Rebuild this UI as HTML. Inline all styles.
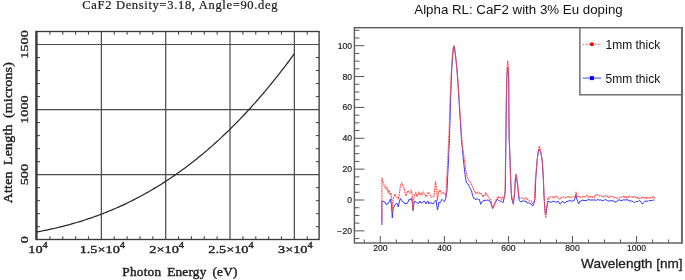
<!DOCTYPE html>
<html><head><meta charset="utf-8"><style>
html,body{margin:0;padding:0;background:#fff;width:685px;height:280px;overflow:hidden;}
svg{display:block;will-change:transform;}
</style></head><body>
<svg width="685" height="280" viewBox="0 0 685 280">
<rect width="685" height="280" fill="#fff"/>
<line x1="101.36" y1="31.5" x2="101.36" y2="239.5" stroke="#4a4a4a" stroke-width="1.2"/>
<line x1="165.69" y1="31.5" x2="165.69" y2="239.5" stroke="#4a4a4a" stroke-width="1.2"/>
<line x1="230.02" y1="31.5" x2="230.02" y2="239.5" stroke="#4a4a4a" stroke-width="1.2"/>
<line x1="294.35" y1="31.5" x2="294.35" y2="239.5" stroke="#4a4a4a" stroke-width="1.2"/>
<line x1="36.5" y1="174.64" x2="319.1" y2="174.64" stroke="#4a4a4a" stroke-width="1.2"/>
<line x1="36.5" y1="109.57" x2="319.1" y2="109.57" stroke="#4a4a4a" stroke-width="1.2"/>
<line x1="36.5" y1="44.50" x2="319.1" y2="44.50" stroke="#4a4a4a" stroke-width="1.2"/>
<line x1="49.90" y1="239.5" x2="49.90" y2="236.3" stroke="#4a4a4a" stroke-width="1.1"/>
<line x1="49.90" y1="31.5" x2="49.90" y2="34.7" stroke="#4a4a4a" stroke-width="1.1"/>
<line x1="62.76" y1="239.5" x2="62.76" y2="236.3" stroke="#4a4a4a" stroke-width="1.1"/>
<line x1="62.76" y1="31.5" x2="62.76" y2="34.7" stroke="#4a4a4a" stroke-width="1.1"/>
<line x1="75.63" y1="239.5" x2="75.63" y2="236.3" stroke="#4a4a4a" stroke-width="1.1"/>
<line x1="75.63" y1="31.5" x2="75.63" y2="34.7" stroke="#4a4a4a" stroke-width="1.1"/>
<line x1="88.49" y1="239.5" x2="88.49" y2="236.3" stroke="#4a4a4a" stroke-width="1.1"/>
<line x1="88.49" y1="31.5" x2="88.49" y2="34.7" stroke="#4a4a4a" stroke-width="1.1"/>
<line x1="114.23" y1="239.5" x2="114.23" y2="236.3" stroke="#4a4a4a" stroke-width="1.1"/>
<line x1="114.23" y1="31.5" x2="114.23" y2="34.7" stroke="#4a4a4a" stroke-width="1.1"/>
<line x1="127.09" y1="239.5" x2="127.09" y2="236.3" stroke="#4a4a4a" stroke-width="1.1"/>
<line x1="127.09" y1="31.5" x2="127.09" y2="34.7" stroke="#4a4a4a" stroke-width="1.1"/>
<line x1="139.96" y1="239.5" x2="139.96" y2="236.3" stroke="#4a4a4a" stroke-width="1.1"/>
<line x1="139.96" y1="31.5" x2="139.96" y2="34.7" stroke="#4a4a4a" stroke-width="1.1"/>
<line x1="152.82" y1="239.5" x2="152.82" y2="236.3" stroke="#4a4a4a" stroke-width="1.1"/>
<line x1="152.82" y1="31.5" x2="152.82" y2="34.7" stroke="#4a4a4a" stroke-width="1.1"/>
<line x1="178.56" y1="239.5" x2="178.56" y2="236.3" stroke="#4a4a4a" stroke-width="1.1"/>
<line x1="178.56" y1="31.5" x2="178.56" y2="34.7" stroke="#4a4a4a" stroke-width="1.1"/>
<line x1="191.42" y1="239.5" x2="191.42" y2="236.3" stroke="#4a4a4a" stroke-width="1.1"/>
<line x1="191.42" y1="31.5" x2="191.42" y2="34.7" stroke="#4a4a4a" stroke-width="1.1"/>
<line x1="204.29" y1="239.5" x2="204.29" y2="236.3" stroke="#4a4a4a" stroke-width="1.1"/>
<line x1="204.29" y1="31.5" x2="204.29" y2="34.7" stroke="#4a4a4a" stroke-width="1.1"/>
<line x1="217.15" y1="239.5" x2="217.15" y2="236.3" stroke="#4a4a4a" stroke-width="1.1"/>
<line x1="217.15" y1="31.5" x2="217.15" y2="34.7" stroke="#4a4a4a" stroke-width="1.1"/>
<line x1="242.89" y1="239.5" x2="242.89" y2="236.3" stroke="#4a4a4a" stroke-width="1.1"/>
<line x1="242.89" y1="31.5" x2="242.89" y2="34.7" stroke="#4a4a4a" stroke-width="1.1"/>
<line x1="255.75" y1="239.5" x2="255.75" y2="236.3" stroke="#4a4a4a" stroke-width="1.1"/>
<line x1="255.75" y1="31.5" x2="255.75" y2="34.7" stroke="#4a4a4a" stroke-width="1.1"/>
<line x1="268.62" y1="239.5" x2="268.62" y2="236.3" stroke="#4a4a4a" stroke-width="1.1"/>
<line x1="268.62" y1="31.5" x2="268.62" y2="34.7" stroke="#4a4a4a" stroke-width="1.1"/>
<line x1="281.48" y1="239.5" x2="281.48" y2="236.3" stroke="#4a4a4a" stroke-width="1.1"/>
<line x1="281.48" y1="31.5" x2="281.48" y2="34.7" stroke="#4a4a4a" stroke-width="1.1"/>
<line x1="307.22" y1="239.5" x2="307.22" y2="236.3" stroke="#4a4a4a" stroke-width="1.1"/>
<line x1="307.22" y1="31.5" x2="307.22" y2="34.7" stroke="#4a4a4a" stroke-width="1.1"/>
<line x1="36.5" y1="226.70" x2="40.0" y2="226.70" stroke="#4a4a4a" stroke-width="1.1"/>
<line x1="319.1" y1="226.70" x2="315.90000000000003" y2="226.70" stroke="#4a4a4a" stroke-width="1.1"/>
<line x1="36.5" y1="213.68" x2="40.0" y2="213.68" stroke="#4a4a4a" stroke-width="1.1"/>
<line x1="319.1" y1="213.68" x2="315.90000000000003" y2="213.68" stroke="#4a4a4a" stroke-width="1.1"/>
<line x1="36.5" y1="200.67" x2="40.0" y2="200.67" stroke="#4a4a4a" stroke-width="1.1"/>
<line x1="319.1" y1="200.67" x2="315.90000000000003" y2="200.67" stroke="#4a4a4a" stroke-width="1.1"/>
<line x1="36.5" y1="187.65" x2="40.0" y2="187.65" stroke="#4a4a4a" stroke-width="1.1"/>
<line x1="319.1" y1="187.65" x2="315.90000000000003" y2="187.65" stroke="#4a4a4a" stroke-width="1.1"/>
<line x1="36.5" y1="161.63" x2="40.0" y2="161.63" stroke="#4a4a4a" stroke-width="1.1"/>
<line x1="319.1" y1="161.63" x2="315.90000000000003" y2="161.63" stroke="#4a4a4a" stroke-width="1.1"/>
<line x1="36.5" y1="148.61" x2="40.0" y2="148.61" stroke="#4a4a4a" stroke-width="1.1"/>
<line x1="319.1" y1="148.61" x2="315.90000000000003" y2="148.61" stroke="#4a4a4a" stroke-width="1.1"/>
<line x1="36.5" y1="135.60" x2="40.0" y2="135.60" stroke="#4a4a4a" stroke-width="1.1"/>
<line x1="319.1" y1="135.60" x2="315.90000000000003" y2="135.60" stroke="#4a4a4a" stroke-width="1.1"/>
<line x1="36.5" y1="122.58" x2="40.0" y2="122.58" stroke="#4a4a4a" stroke-width="1.1"/>
<line x1="319.1" y1="122.58" x2="315.90000000000003" y2="122.58" stroke="#4a4a4a" stroke-width="1.1"/>
<line x1="36.5" y1="96.56" x2="40.0" y2="96.56" stroke="#4a4a4a" stroke-width="1.1"/>
<line x1="319.1" y1="96.56" x2="315.90000000000003" y2="96.56" stroke="#4a4a4a" stroke-width="1.1"/>
<line x1="36.5" y1="83.54" x2="40.0" y2="83.54" stroke="#4a4a4a" stroke-width="1.1"/>
<line x1="319.1" y1="83.54" x2="315.90000000000003" y2="83.54" stroke="#4a4a4a" stroke-width="1.1"/>
<line x1="36.5" y1="70.53" x2="40.0" y2="70.53" stroke="#4a4a4a" stroke-width="1.1"/>
<line x1="319.1" y1="70.53" x2="315.90000000000003" y2="70.53" stroke="#4a4a4a" stroke-width="1.1"/>
<line x1="36.5" y1="57.51" x2="40.0" y2="57.51" stroke="#4a4a4a" stroke-width="1.1"/>
<line x1="319.1" y1="57.51" x2="315.90000000000003" y2="57.51" stroke="#4a4a4a" stroke-width="1.1"/>
<rect x="36.5" y="31.5" width="282.60" height="208.0" fill="none" stroke="#3a3a3a" stroke-width="1.35"/>
<line x1="36.4" y1="30.9" x2="36.4" y2="240.1" stroke="#3a3a3a" stroke-width="2.3"/>
<polyline points="37.03,231.90 38.65,231.60 40.27,231.30 41.89,230.99 43.50,230.67 45.12,230.35 46.74,230.02 48.36,229.68 49.98,229.33 51.60,228.98 53.21,228.62 54.83,228.25 56.45,227.88 58.07,227.49 59.69,227.10 61.31,226.70 62.92,226.30 64.54,225.88 66.16,225.46 67.78,225.03 69.40,224.59 71.02,224.14 72.63,223.69 74.25,223.22 75.87,222.75 77.49,222.27 79.11,221.78 80.73,221.29 82.34,220.78 83.96,220.27 85.58,219.74 87.20,219.21 88.82,218.67 90.44,218.12 92.05,217.56 93.67,216.99 95.29,216.41 96.91,215.82 98.53,215.23 100.15,214.62 101.76,214.00 103.38,213.38 105.00,212.74 106.62,212.10 108.24,211.44 109.86,210.78 111.47,210.11 113.09,209.42 114.71,208.73 116.33,208.02 117.95,207.31 119.57,206.58 121.18,205.85 122.80,205.10 124.42,204.35 126.04,203.58 127.66,202.80 129.28,202.01 130.90,201.22 132.51,200.41 134.13,199.59 135.75,198.76 137.37,197.91 138.99,197.06 140.61,196.20 142.22,195.32 143.84,194.43 145.46,193.54 147.08,192.63 148.70,191.71 150.32,190.77 151.93,189.83 153.55,188.87 155.17,187.91 156.79,186.93 158.41,185.94 160.03,184.93 161.64,183.92 163.26,182.89 164.88,181.85 166.50,180.80 168.12,179.74 169.74,178.66 171.35,177.57 172.97,176.47 174.59,175.36 176.21,174.23 177.83,173.09 179.45,171.94 181.06,170.78 182.68,169.60 184.30,168.41 185.92,167.21 187.54,165.99 189.16,164.77 190.77,163.52 192.39,162.27 194.01,161.00 195.63,159.72 197.25,158.42 198.87,157.11 200.48,155.79 202.10,154.46 203.72,153.11 205.34,151.74 206.96,150.37 208.58,148.98 210.20,147.57 211.81,146.15 213.43,144.72 215.05,143.27 216.67,141.81 218.29,140.34 219.91,138.85 221.52,137.34 223.14,135.82 224.76,134.29 226.38,132.74 228.00,131.18 229.62,129.60 231.23,128.01 232.85,126.40 234.47,124.78 236.09,123.15 237.71,121.49 239.33,119.83 240.94,118.14 242.56,116.45 244.18,114.74 245.80,113.01 247.42,111.26 249.04,109.51 250.65,107.73 252.27,105.94 253.89,104.14 255.51,102.32 257.13,100.48 258.75,98.63 260.36,96.76 261.98,94.87 263.60,92.97 265.22,91.06 266.84,89.12 268.46,87.17 270.07,85.21 271.69,83.23 273.31,81.23 274.93,79.21 276.55,77.18 278.17,75.14 279.78,73.07 281.40,70.99 283.02,68.89 284.64,66.78 286.26,64.65 287.88,62.50 289.49,60.33 291.11,58.15 292.73,55.95 294.35,53.73" fill="none" stroke="#2a2a2a" stroke-width="1.25"/>
<text transform="translate(180.25,9.40) scale(1.08,1)" font-family='"Liberation Serif", serif' font-size="11.6" font-weight="normal" text-anchor="middle" fill="#222" stroke="#222" stroke-width="0.22" letter-spacing="0.62">CaF2 Density=3.18, Angle=90.deg</text>
<text transform="translate(180.00,275.60) scale(1.088,1)" font-family='"Liberation Serif", serif' font-size="12.2" font-weight="normal" text-anchor="middle" fill="#222" stroke="#222" stroke-width="0.4" word-spacing="2.2" letter-spacing="0.2">Photon Energy (eV)</text>
<text transform="translate(11.60,132.60) rotate(-90) scale(1.14,1)" font-family='"Liberation Serif", serif' font-size="12.2" font-weight="normal" text-anchor="middle" fill="#222" stroke="#222" stroke-width="0.4" word-spacing="2.2" letter-spacing="0.2">Atten Length (microns)</text>
<text transform="translate(27.90,239.71) rotate(-90) scale(1.3,1)" font-family='"Liberation Serif", serif' font-size="11" font-weight="normal" text-anchor="middle" fill="#222" stroke="#222" stroke-width="0.35">0</text>
<text transform="translate(27.90,174.64) rotate(-90) scale(1.3,1)" font-family='"Liberation Serif", serif' font-size="11" font-weight="normal" text-anchor="middle" fill="#222" stroke="#222" stroke-width="0.35">500</text>
<text transform="translate(27.90,109.57) rotate(-90) scale(1.3,1)" font-family='"Liberation Serif", serif' font-size="11" font-weight="normal" text-anchor="middle" fill="#222" stroke="#222" stroke-width="0.35">1000</text>
<text transform="translate(27.90,44.50) rotate(-90) scale(1.3,1)" font-family='"Liberation Serif", serif' font-size="11" font-weight="normal" text-anchor="middle" fill="#222" stroke="#222" stroke-width="0.35">1500</text>
<text transform="translate(38.03,253.20) scale(1.3,1)" font-family='"Liberation Serif", serif' font-size="11" font-weight="normal" text-anchor="middle" fill="#222" stroke="#222" stroke-width="0.35">10<tspan font-size="8" dy="-5.2">4</tspan></text>
<text transform="translate(102.36,253.20) scale(1.3,1)" font-family='"Liberation Serif", serif' font-size="11" font-weight="normal" text-anchor="middle" fill="#222" stroke="#222" stroke-width="0.35">1.5×10<tspan font-size="8" dy="-5.2">4</tspan></text>
<text transform="translate(166.69,253.20) scale(1.3,1)" font-family='"Liberation Serif", serif' font-size="11" font-weight="normal" text-anchor="middle" fill="#222" stroke="#222" stroke-width="0.35">2×10<tspan font-size="8" dy="-5.2">4</tspan></text>
<text transform="translate(231.02,253.20) scale(1.3,1)" font-family='"Liberation Serif", serif' font-size="11" font-weight="normal" text-anchor="middle" fill="#222" stroke="#222" stroke-width="0.35">2.5×10<tspan font-size="8" dy="-5.2">4</tspan></text>
<text transform="translate(295.35,253.20) scale(1.3,1)" font-family='"Liberation Serif", serif' font-size="11" font-weight="normal" text-anchor="middle" fill="#222" stroke="#222" stroke-width="0.35">3×10<tspan font-size="8" dy="-5.2">4</tspan></text>
<line x1="354.4" y1="238.57" x2="359.4" y2="238.57" stroke="#555" stroke-width="1"/>
<line x1="354.4" y1="230.86" x2="364.4" y2="230.86" stroke="#555" stroke-width="1"/>
<line x1="354.4" y1="223.15" x2="359.4" y2="223.15" stroke="#555" stroke-width="1"/>
<line x1="354.4" y1="215.43" x2="359.4" y2="215.43" stroke="#555" stroke-width="1"/>
<line x1="354.4" y1="207.72" x2="359.4" y2="207.72" stroke="#555" stroke-width="1"/>
<line x1="354.4" y1="200.00" x2="364.4" y2="200.00" stroke="#555" stroke-width="1"/>
<line x1="354.4" y1="192.28" x2="359.4" y2="192.28" stroke="#555" stroke-width="1"/>
<line x1="354.4" y1="184.57" x2="359.4" y2="184.57" stroke="#555" stroke-width="1"/>
<line x1="354.4" y1="176.85" x2="359.4" y2="176.85" stroke="#555" stroke-width="1"/>
<line x1="354.4" y1="169.14" x2="364.4" y2="169.14" stroke="#555" stroke-width="1"/>
<line x1="354.4" y1="161.43" x2="359.4" y2="161.43" stroke="#555" stroke-width="1"/>
<line x1="354.4" y1="153.71" x2="359.4" y2="153.71" stroke="#555" stroke-width="1"/>
<line x1="354.4" y1="146.00" x2="359.4" y2="146.00" stroke="#555" stroke-width="1"/>
<line x1="354.4" y1="138.28" x2="364.4" y2="138.28" stroke="#555" stroke-width="1"/>
<line x1="354.4" y1="130.56" x2="359.4" y2="130.56" stroke="#555" stroke-width="1"/>
<line x1="354.4" y1="122.85" x2="359.4" y2="122.85" stroke="#555" stroke-width="1"/>
<line x1="354.4" y1="115.14" x2="359.4" y2="115.14" stroke="#555" stroke-width="1"/>
<line x1="354.4" y1="107.42" x2="364.4" y2="107.42" stroke="#555" stroke-width="1"/>
<line x1="354.4" y1="99.70" x2="359.4" y2="99.70" stroke="#555" stroke-width="1"/>
<line x1="354.4" y1="91.99" x2="359.4" y2="91.99" stroke="#555" stroke-width="1"/>
<line x1="354.4" y1="84.28" x2="359.4" y2="84.28" stroke="#555" stroke-width="1"/>
<line x1="354.4" y1="76.56" x2="364.4" y2="76.56" stroke="#555" stroke-width="1"/>
<line x1="354.4" y1="68.84" x2="359.4" y2="68.84" stroke="#555" stroke-width="1"/>
<line x1="354.4" y1="61.13" x2="359.4" y2="61.13" stroke="#555" stroke-width="1"/>
<line x1="354.4" y1="53.42" x2="359.4" y2="53.42" stroke="#555" stroke-width="1"/>
<line x1="354.4" y1="45.70" x2="364.4" y2="45.70" stroke="#555" stroke-width="1"/>
<line x1="354.4" y1="37.99" x2="359.4" y2="37.99" stroke="#555" stroke-width="1"/>
<line x1="354.4" y1="30.27" x2="359.4" y2="30.27" stroke="#555" stroke-width="1"/>
<line x1="364.28" y1="243" x2="364.28" y2="239.5" stroke="#555" stroke-width="1"/>
<line x1="380.30" y1="243" x2="380.30" y2="236" stroke="#555" stroke-width="1"/>
<line x1="396.32" y1="243" x2="396.32" y2="239.5" stroke="#555" stroke-width="1"/>
<line x1="412.34" y1="243" x2="412.34" y2="239.5" stroke="#555" stroke-width="1"/>
<line x1="428.35" y1="243" x2="428.35" y2="239.5" stroke="#555" stroke-width="1"/>
<line x1="444.37" y1="243" x2="444.37" y2="236" stroke="#555" stroke-width="1"/>
<line x1="460.39" y1="243" x2="460.39" y2="239.5" stroke="#555" stroke-width="1"/>
<line x1="476.41" y1="243" x2="476.41" y2="239.5" stroke="#555" stroke-width="1"/>
<line x1="492.42" y1="243" x2="492.42" y2="239.5" stroke="#555" stroke-width="1"/>
<line x1="508.44" y1="243" x2="508.44" y2="236" stroke="#555" stroke-width="1"/>
<line x1="524.46" y1="243" x2="524.46" y2="239.5" stroke="#555" stroke-width="1"/>
<line x1="540.48" y1="243" x2="540.48" y2="239.5" stroke="#555" stroke-width="1"/>
<line x1="556.49" y1="243" x2="556.49" y2="239.5" stroke="#555" stroke-width="1"/>
<line x1="572.51" y1="243" x2="572.51" y2="236" stroke="#555" stroke-width="1"/>
<line x1="588.53" y1="243" x2="588.53" y2="239.5" stroke="#555" stroke-width="1"/>
<line x1="604.55" y1="243" x2="604.55" y2="239.5" stroke="#555" stroke-width="1"/>
<line x1="620.56" y1="243" x2="620.56" y2="239.5" stroke="#555" stroke-width="1"/>
<line x1="636.58" y1="243" x2="636.58" y2="236" stroke="#555" stroke-width="1"/>
<line x1="652.60" y1="243" x2="652.60" y2="239.5" stroke="#555" stroke-width="1"/>
<line x1="668.62" y1="243" x2="668.62" y2="239.5" stroke="#555" stroke-width="1"/>
<text x="352" y="233.86" font-family='"Liberation Sans", sans-serif' font-size="8.6" text-anchor="end" fill="#222" stroke="#222" stroke-width="0.18">− 20</text>
<text x="352" y="203.00" font-family='"Liberation Sans", sans-serif' font-size="8.6" text-anchor="end" fill="#222" stroke="#222" stroke-width="0.18">0</text>
<text x="352" y="172.14" font-family='"Liberation Sans", sans-serif' font-size="8.6" text-anchor="end" fill="#222" stroke="#222" stroke-width="0.18">20</text>
<text x="352" y="141.28" font-family='"Liberation Sans", sans-serif' font-size="8.6" text-anchor="end" fill="#222" stroke="#222" stroke-width="0.18">40</text>
<text x="352" y="110.42" font-family='"Liberation Sans", sans-serif' font-size="8.6" text-anchor="end" fill="#222" stroke="#222" stroke-width="0.18">60</text>
<text x="352" y="79.56" font-family='"Liberation Sans", sans-serif' font-size="8.6" text-anchor="end" fill="#222" stroke="#222" stroke-width="0.18">80</text>
<text x="352" y="48.70" font-family='"Liberation Sans", sans-serif' font-size="8.6" text-anchor="end" fill="#222" stroke="#222" stroke-width="0.18">100</text>
<text x="380.30" y="251.4" font-family='"Liberation Sans", sans-serif' font-size="8.6" text-anchor="middle" fill="#222" stroke="#222" stroke-width="0.18">200</text>
<text x="444.37" y="251.4" font-family='"Liberation Sans", sans-serif' font-size="8.6" text-anchor="middle" fill="#222" stroke="#222" stroke-width="0.18">400</text>
<text x="508.44" y="251.4" font-family='"Liberation Sans", sans-serif' font-size="8.6" text-anchor="middle" fill="#222" stroke="#222" stroke-width="0.18">600</text>
<text x="572.51" y="251.4" font-family='"Liberation Sans", sans-serif' font-size="8.6" text-anchor="middle" fill="#222" stroke="#222" stroke-width="0.18">800</text>
<text x="636.58" y="251.4" font-family='"Liberation Sans", sans-serif' font-size="8.6" text-anchor="middle" fill="#222" stroke="#222" stroke-width="0.18">1000</text>
<polyline points="381.9,225.0 381.9,201.0 383.0,201.0 384.0,201.9 385.0,202.0 386.0,204.4 387.0,204.0 388.0,203.9 389.0,202.0 390.5,199.0 391.5,205.0 392.3,218.0 393.2,208.0 394.0,207.0 395.0,204.6 396.0,204.0 397.0,203.0 398.3,207.0 399.5,201.0 400.5,198.5 402.0,201.0 403.0,202.0 404.0,202.3 405.0,204.0 406.0,203.0 407.0,203.8 408.0,202.0 409.0,199.3 410.0,200.0 411.5,198.0 412.5,204.0 413.0,210.5 413.8,204.0 415.0,201.0 416.5,202.5 418.0,203.0 419.0,203.1 420.0,201.0 421.0,203.0 422.0,203.0 423.0,201.9 424.0,201.0 425.0,201.8 426.0,204.0 427.0,201.7 428.0,201.0 429.0,204.0 430.0,202.7 431.0,203.0 432.0,203.3 433.0,204.0 434.5,202.0 436.0,200.0 437.5,210.0 439.0,202.0 440.0,202.9 441.0,201.1 442.0,199.3 443.0,200.5 444.0,201.4 445.0,200.9 446.0,197.0 447.0,190.0 447.5,180.0 448.0,170.0 448.5,160.0 449.4,140.0 450.0,120.0 450.6,100.0 451.3,80.0 452.0,65.0 452.6,58.0 453.2,50.0 454.0,46.0 454.8,50.0 455.3,54.0 456.0,60.0 457.0,70.0 457.7,80.0 458.7,95.0 459.6,110.0 460.6,125.0 461.5,140.0 462.5,150.0 463.2,158.0 464.5,170.0 465.5,178.0 466.4,182.0 467.2,183.6 468.0,184.0 469.3,186.4 470.4,188.8 471.4,190.7 472.9,196.4 473.8,198.6 474.8,198.2 475.7,200.0 476.6,198.8 477.5,199.0 478.4,199.4 479.3,199.3 480.7,204.3 481.8,201.9 482.9,201.4 483.9,200.0 485.0,200.5 486.1,200.3 487.1,200.0 488.1,200.2 489.0,201.3 490.0,200.7 492.6,208.6 493.8,206.4 495.0,203.6 496.1,201.5 497.1,199.3 498.1,200.0 499.0,200.2 500.0,201.4 501.0,200.9 501.9,201.8 502.9,202.9 504.6,196.4 505.3,190.0 505.5,175.0 505.8,150.0 506.1,120.0 506.4,100.0 506.8,78.0 507.3,70.0 507.8,67.0 508.3,72.0 508.7,80.0 508.8,100.0 508.9,120.0 509.2,140.0 509.7,150.0 510.2,165.0 510.6,178.0 511.2,192.0 511.8,199.0 513.3,204.2 514.5,195.0 515.3,180.0 516.1,175.0 517.6,185.0 518.5,195.0 519.2,200.3 520.1,201.5 521.0,202.0 522.0,201.0 523.0,201.0 524.0,201.0 525.0,201.4 526.0,201.1 527.0,203.0 528.0,203.0 529.0,202.7 530.0,203.3 531.0,204.0 532.0,205.5 532.9,205.7 534.4,202.0 535.0,198.6 535.4,190.0 535.7,180.0 536.4,170.0 537.2,160.0 538.2,152.0 539.4,149.0 540.5,152.0 541.4,156.0 542.2,160.0 542.8,170.0 543.4,180.0 543.9,194.0 545.0,211.4 545.7,215.0 547.9,201.4 549.0,201.7 550.0,202.0 551.0,202.3 552.0,201.6 553.0,201.0 554.0,201.9 555.0,201.3 556.0,202.5 557.0,201.8 558.0,201.0 559.0,202.7 560.0,204.3 561.0,203.5 562.0,201.5 563.0,201.8 564.0,202.7 565.0,203.0 566.0,201.7 567.0,201.6 568.0,201.2 569.0,200.9 570.0,200.5 571.0,201.0 572.0,201.4 573.0,200.5 574.0,200.6 575.5,197.0 576.0,195.0 576.8,199.0 578.0,202.0 578.8,203.8 580.0,201.0 581.0,201.3 582.0,200.0 583.0,200.3 584.0,200.5 585.0,200.5 586.0,200.5 587.0,200.3 588.0,199.8 589.0,199.4 590.0,200.2 591.0,200.1 592.0,199.8 593.0,200.1 594.0,200.3 595.0,199.4 596.0,200.8 597.0,199.8 598.0,199.4 599.0,200.2 600.0,200.0 601.0,199.8 602.0,200.9 603.0,200.4 604.0,200.5 605.0,199.4 606.0,199.8 607.0,200.6 608.0,201.0 609.0,201.1 610.0,200.6 611.0,200.9 612.0,200.4 613.0,201.2 614.0,201.0 615.0,201.9 616.0,202.2 617.0,201.1 618.0,200.5 619.0,199.7 620.0,200.0 621.0,200.7 622.0,200.2 623.0,200.1 624.0,199.8 625.0,200.0 626.0,200.0 627.0,199.8 628.0,199.6 629.0,201.1 630.0,200.6 631.0,200.9 632.0,201.4 633.0,201.4 634.0,202.5 635.0,202.5 636.0,201.4 637.0,201.6 638.0,201.5 639.0,200.5 640.0,201.0 641.0,201.7 642.0,203.8 643.0,203.7 644.0,202.4 645.0,201.2 646.0,201.0 647.0,201.0 648.0,201.5 649.0,200.5 650.0,200.6 651.1,200.6 652.2,200.6 653.4,199.9 654.5,200.0" fill="none" stroke="#3a3aff" stroke-width="1.0" stroke-linejoin="round"/>
<polyline points="381.9,222.0 381.9,178.0 383.0,182.0 384.5,186.0 386.0,189.0 387.0,187.0 388.0,193.0 389.0,190.0 390.0,195.0 391.0,193.0 392.3,211.0 393.2,198.0 394.1,196.1 395.0,194.0 396.0,196.8 397.0,197.0 398.5,199.0 399.5,192.0 400.5,186.0 401.7,182.7 403.0,186.0 404.0,188.0 405.0,193.0 406.0,196.0 407.5,191.0 409.0,192.0 410.0,192.9 411.0,190.0 412.0,193.0 413.0,211.0 414.0,197.0 415.0,194.0 416.0,192.7 417.0,196.7 418.0,195.0 419.0,192.0 420.0,194.9 421.0,193.0 422.0,194.8 423.0,191.9 424.0,194.0 425.0,194.3 426.0,196.8 427.0,196.0 428.0,192.2 429.0,193.0 430.0,194.9 431.0,197.1 432.0,197.0 433.0,196.6 434.0,196.0 435.5,181.6 436.5,188.0 437.5,200.0 438.5,192.0 440.0,190.0 441.0,192.9 442.0,193.6 443.0,192.3 444.0,193.6 445.0,193.6 446.0,196.4 446.5,183.6 447.0,175.0 447.6,165.0 448.2,150.0 449.0,135.0 449.6,115.0 450.3,95.0 451.0,78.0 451.8,63.0 452.5,55.0 453.2,48.0 454.0,45.5 454.9,50.0 455.5,55.0 456.2,62.0 457.2,72.0 458.0,82.0 459.0,97.0 460.0,112.0 461.0,127.0 461.8,140.0 463.0,150.0 464.5,160.0 465.7,170.0 467.1,176.4 468.6,180.0 469.6,181.4 470.7,183.6 471.7,184.6 472.6,187.0 473.6,189.3 474.5,192.0 475.5,192.4 476.4,193.6 477.3,192.8 478.1,192.2 479.0,192.5 480.2,194.3 481.4,193.6 482.9,197.0 483.8,195.5 484.8,195.6 485.7,192.9 486.7,194.1 487.6,195.3 488.6,196.4 489.6,199.3 490.7,200.0 492.6,207.9 493.6,206.2 494.7,203.3 495.7,200.7 496.8,198.3 497.9,196.4 498.8,198.0 499.8,197.2 500.7,197.9 501.7,199.3 502.6,197.2 503.6,198.6 505.0,193.0 505.3,180.0 505.5,160.0 505.9,130.0 506.3,100.0 506.8,75.0 507.3,64.0 507.8,61.0 508.3,66.0 508.8,80.0 508.9,110.0 509.1,135.0 509.6,148.0 510.1,162.0 510.5,175.0 511.0,188.0 511.6,196.0 513.3,203.0 514.5,193.0 515.3,180.0 516.1,174.0 517.6,184.0 518.5,193.0 519.5,198.0 520.8,197.8 522.0,198.0 523.0,198.0 524.0,199.0 525.0,197.9 526.0,197.7 527.0,199.4 528.0,199.0 529.0,200.1 530.0,200.8 531.0,201.0 532.0,202.8 532.9,204.0 534.4,200.0 535.3,180.0 536.3,170.0 537.2,160.0 538.3,150.0 539.4,146.0 540.5,150.0 541.4,155.0 542.2,160.0 542.9,170.0 543.5,180.0 544.0,194.0 545.0,211.0 545.7,218.0 547.9,197.9 548.9,198.7 550.0,196.9 551.0,197.0 552.0,197.1 553.0,197.0 554.0,198.0 555.0,196.4 556.0,196.3 557.0,196.5 558.0,198.3 559.0,199.0 560.0,199.0 561.0,197.4 562.0,197.9 563.0,197.0 564.0,197.1 565.0,197.6 566.0,197.5 567.0,197.5 568.0,196.4 569.0,196.5 570.0,197.8 571.0,196.8 572.0,197.0 573.0,197.1 574.0,197.0 575.0,196.5 576.0,192.0 577.0,197.0 578.0,196.4 579.0,196.3 580.0,197.5 581.0,197.0 582.0,197.5 583.0,196.6 584.0,197.2 585.0,196.8 586.0,196.1 587.0,195.2 588.0,197.1 589.0,196.9 590.0,196.2 591.0,197.4 592.0,196.9 593.0,197.1 594.0,197.6 595.0,195.0 596.0,195.6 597.0,194.6 598.0,194.8 599.0,195.5 600.0,196.2 601.0,195.9 602.0,196.1 603.0,197.1 604.0,196.9 605.0,195.3 606.0,196.1 607.0,196.7 608.0,196.0 609.0,197.6 610.0,197.5 611.0,196.1 612.0,196.4 613.0,196.6 614.0,198.0 615.0,197.4 616.0,197.6 617.0,198.3 618.0,197.9 619.0,197.8 620.0,197.5 621.0,196.6 622.0,197.4 623.0,197.1 624.0,195.8 625.0,197.5 626.0,196.6 627.0,197.8 628.0,197.6 629.0,195.7 630.0,196.8 631.0,196.7 632.0,196.9 633.0,197.6 634.0,196.5 635.0,197.6 636.0,197.1 637.0,198.1 638.0,197.2 639.0,198.7 640.0,198.1 641.0,198.6 642.0,196.9 643.0,197.6 644.0,198.2 645.0,197.5 646.0,198.6 647.0,197.2 648.0,198.1 649.0,198.0 650.0,197.5 651.0,197.9 652.0,197.8 653.0,196.6 654.0,198.0 655.0,197.6" fill="none" stroke="#ff4d4d" stroke-width="1.15" stroke-dasharray="1.8 0.7" stroke-linejoin="round"/>
<rect x="354.4" y="27.7" width="327.5" height="215.3" fill="none" stroke="#5a5a5a" stroke-width="1.4"/>
<rect x="579.9" y="27.7" width="102.0" height="67.1" fill="#fff" stroke="#666" stroke-width="1.4"/>
<line x1="681.9" y1="27.0" x2="681.9" y2="243.7" stroke="#6a6a6a" stroke-width="1.9"/>
<line x1="582.8" y1="44.3" x2="600.5" y2="44.3" stroke="#ff4040" stroke-width="1" stroke-dasharray="1.5 1.5"/>
<circle cx="591.9" cy="44.3" r="2" fill="#f00"/>
<line x1="582.8" y1="78.1" x2="601" y2="78.1" stroke="#4040ff" stroke-width="1"/>
<rect x="589.9" y="76.1" width="4" height="4" fill="#00f"/>
<text x="605.5" y="49.1" font-family='"Liberation Sans", sans-serif' font-size="12" fill="#111">1mm thick</text>
<text x="605.5" y="82.5" font-family='"Liberation Sans", sans-serif' font-size="12" fill="#111">5mm thick</text>
<text x="518.5" y="13.9" font-family='"Liberation Sans", sans-serif' font-size="13.3" text-anchor="middle" fill="#111">Alpha RL: CaF2 with 3% Eu doping</text>
<text x="682.6" y="268.2" font-family='"Liberation Sans", sans-serif' font-size="13.6" text-anchor="end" fill="#222" stroke="#222" stroke-width="0.3">Wavelength [nm]</text>
</svg>
</body></html>
